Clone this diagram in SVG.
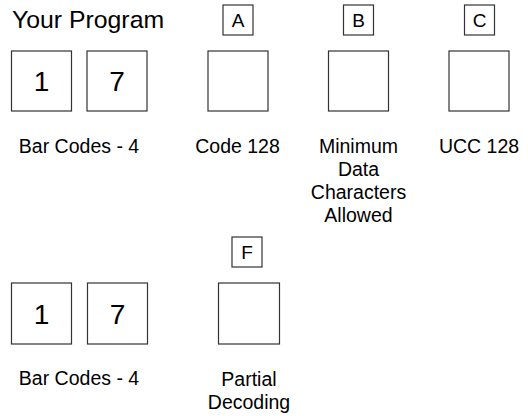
<svg xmlns="http://www.w3.org/2000/svg" width="528" height="416" viewBox="0 0 528 416">
<style>
text{font-family:"Liberation Sans",Arial,sans-serif;fill:#000}
.box{fill:#fff;stroke:#333;stroke-width:1.2}
.dig{font-size:28px;text-anchor:middle}
.lbl{font-size:19.5px;text-anchor:middle}
.tag{font-size:19px;text-anchor:middle}
.title{font-size:24.8px}
</style>
<rect width="528" height="416" fill="#fff"/>
<text class="title" x="12" y="28">Your Program</text>
<g id="d1a"><rect class="box" x="11.5" y="51" width="60" height="60"/><text class="dig" x="41.5" y="91">1</text></g>
<g id="d7a"><rect class="box" x="87" y="51" width="60" height="60"/><text class="dig" x="117" y="91">7</text></g>
<g id="barcodes1"><text class="lbl" x="79" y="153">Bar Codes - 4</text></g>
<g id="A"><rect class="box" x="223" y="5" width="30" height="30"/><text class="tag" x="238" y="27">A</text><rect class="box" x="208" y="51" width="60" height="60"/><text class="lbl" x="237.5" y="153">Code 128</text></g>
<g id="B"><rect class="box" x="343.5" y="5" width="30" height="30"/><text class="tag" x="358.5" y="27">B</text><rect class="box" x="328.5" y="51" width="60" height="60"/><text class="lbl" x="358.5" y="153">Minimum</text><text class="lbl" x="358.5" y="176">Data</text><text class="lbl" x="358.5" y="199">Characters</text><text class="lbl" x="358.5" y="222">Allowed</text></g>
<g id="C"><rect class="box" x="464.5" y="5" width="30" height="30"/><text class="tag" x="479.5" y="27">C</text><rect class="box" x="449" y="51" width="60" height="60"/><text class="lbl" x="479" y="153">UCC 128</text></g>
<g id="d1b"><rect class="box" x="11.5" y="283" width="60" height="61"/><text class="dig" x="41.5" y="324">1</text></g>
<g id="d7b"><rect class="box" x="87.5" y="283" width="60" height="61"/><text class="dig" x="117.5" y="324">7</text></g>
<g id="barcodes2"><text class="lbl" x="79" y="385">Bar Codes - 4</text></g>
<g id="F"><rect class="box" x="232" y="237" width="30" height="30"/><text class="tag" x="247" y="259">F</text><rect class="box" x="218.5" y="283" width="61" height="61"/><text class="lbl" x="249" y="386">Partial</text><text class="lbl" x="249" y="409">Decoding</text></g>
<g id="connectors"></g>
</svg>
